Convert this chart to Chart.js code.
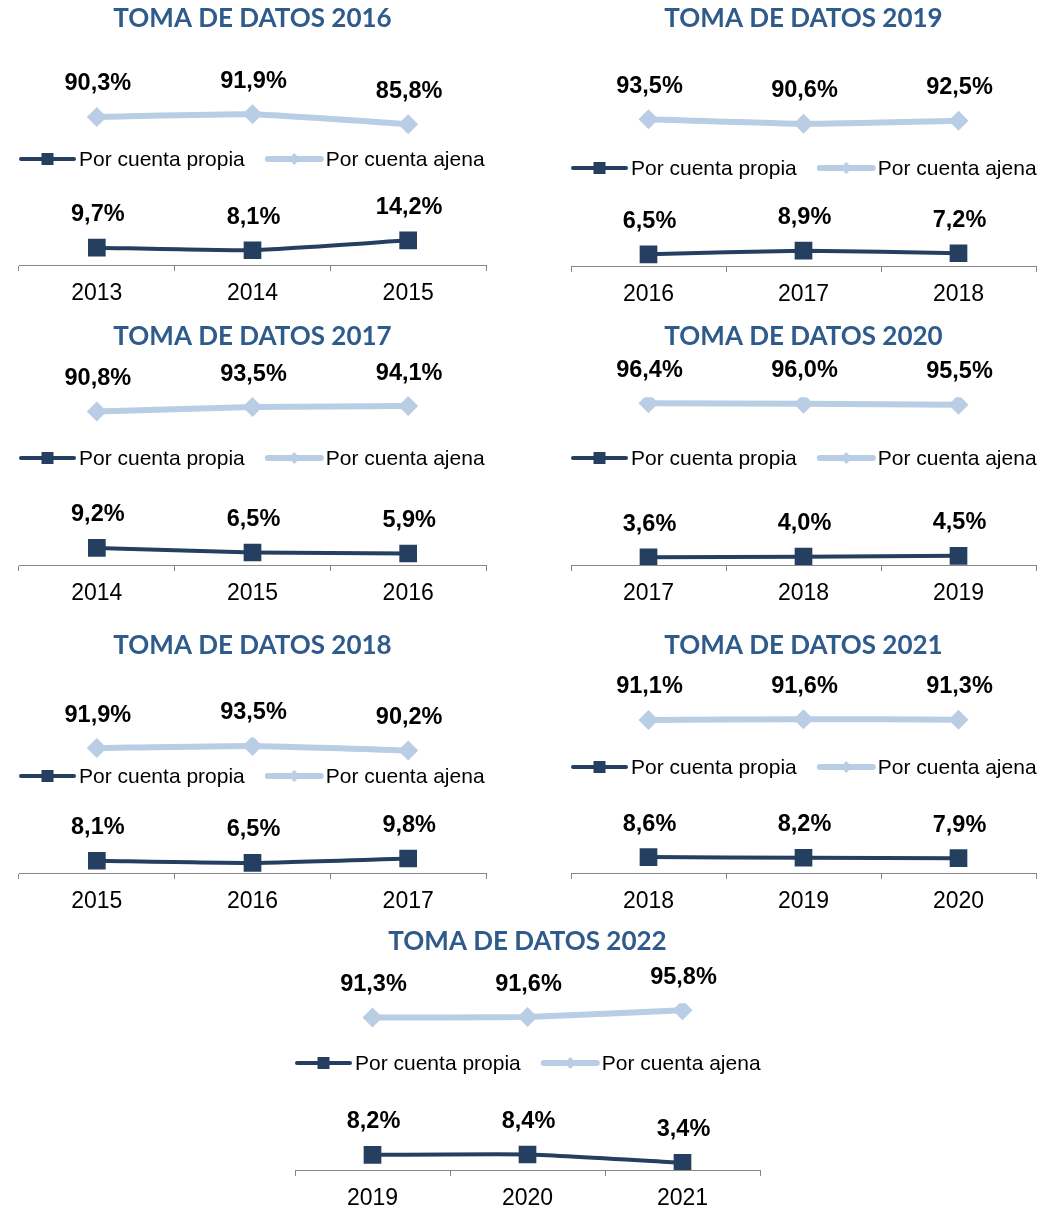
<!DOCTYPE html>
<html>
<head>
<meta charset="utf-8">
<script src="https://cdn.jsdelivr.net/npm/chart.js@4.4.1/dist/chart.umd.min.js"></script>
<style>
  html, body { margin: 0; padding: 0; background: #fff; width: 1061px; height: 1209px; overflow: hidden; }
  .box { position: absolute; }
</style>
</head>
<body>
<script>
// data, one entry per "toma de datos"
const titles = ['TOMA DE DATOS 2016', 'TOMA DE DATOS 2017', 'TOMA DE DATOS 2018', 'TOMA DE DATOS 2019',
                'TOMA DE DATOS 2020', 'TOMA DE DATOS 2021', 'TOMA DE DATOS 2022'];
const years = [
  ['2013', '2014', '2015'],
  ['2014', '2015', '2016'],
  ['2015', '2016', '2017'],
  ['2016', '2017', '2018'],
  ['2017', '2018', '2019'],
  ['2018', '2019', '2020'],
  ['2019', '2020', '2021']
];
const propia = [
  [9.7, 8.1, 14.2],
  [9.2, 6.5, 5.9],
  [8.1, 6.5, 9.8],
  [6.5, 8.9, 7.2],
  [3.6, 4.0, 4.5],
  [8.6, 8.2, 7.9],
  [8.2, 8.4, 3.4]
];
const ajena = [
  [90.3, 91.9, 85.8],
  [90.8, 93.5, 94.1],
  [91.9, 93.5, 90.2],
  [93.5, 90.6, 92.5],
  [96.4, 96.0, 95.5],
  [91.1, 91.6, 91.3],
  [91.3, 91.6, 95.8]
];
const seriesNames = ['Por cuenta propia', 'Por cuenta ajena'];

// where each small chart sits on the page
const boxes = [
  { left: 0,   top: 0,   w: 510, h: 307, padL: 19, padR: 24, titleGap: 67, legendUp: 106 },
  { left: 0,   top: 318, w: 510, h: 289, padL: 19, padR: 24, titleGap: 44, legendUp: 107 },
  { left: 0,   top: 627, w: 510, h: 288, padL: 19, padR: 24, titleGap: 76, legendUp: 97 },
  { left: 550, top: 0,   w: 511, h: 308, padL: 21, padR: 25, titleGap: 75, legendUp: 98 },
  { left: 550, top: 318, w: 511, h: 289, padL: 21, padR: 25, titleGap: 45, legendUp: 107 },
  { left: 550, top: 627, w: 511, h: 288, padL: 21, padR: 25, titleGap: 44, legendUp: 106 },
  { left: 276, top: 923, w: 510, h: 289, padL: 19, padR: 26, titleGap: 46, legendUp: 107 }
];

const DARK = '#243F60';
const LIGHT = '#B9CDE5';
const ARIAL = 'Arial, "Liberation Sans", sans-serif';

const fmt = v => v.toFixed(1).replace('.', ',') + '%';

// legend drawn inside the plot, between the two lines
const midLegend = {
  id: 'midLegend',
  afterDraw(chart, args, opts) {
    const ctx = chart.ctx;
    const area = chart.chartArea;
    const y = area.bottom - opts.up;
    let x = area.left + 2;
    ctx.save();
    ctx.font = '21px ' + ARIAL;
    ctx.textBaseline = 'middle';
    ctx.textAlign = 'left';
    chart.data.datasets.forEach(ds => {
      ctx.strokeStyle = ds.borderColor;
      ctx.lineWidth = ds.borderWidth;
      ctx.lineCap = 'round';
      ctx.beginPath();
      ctx.moveTo(x, y);
      ctx.lineTo(x + 53, y);
      ctx.stroke();
      const cx = x + 26.5;
      ctx.fillStyle = ds.pointBackgroundColor;
      if (ds.pointStyle === 'rect') {
        ctx.fillRect(cx - 6, y - 6, 12, 12);
      } else {
        ctx.beginPath();
        ctx.moveTo(cx, y - 6);
        ctx.lineTo(cx + 6, y);
        ctx.lineTo(cx, y + 6);
        ctx.lineTo(cx - 6, y);
        ctx.closePath();
        ctx.fill();
      }
      ctx.fillStyle = '#000';
      ctx.fillText(ds.label, x + 58, y + 1);
      x += 58 + ctx.measureText(ds.label).width + 23;
    });
    ctx.restore();
  }
};

// values above each point
const valueLabels = {
  id: 'valueLabels',
  afterDatasetsDraw(chart) {
    const ctx = chart.ctx;
    ctx.save();
    ctx.font = 'bold 23.5px ' + ARIAL;
    ctx.fillStyle = '#000';
    ctx.textAlign = 'center';
    ctx.textBaseline = 'middle';
    chart.data.datasets.forEach((ds, i) => {
      chart.getDatasetMeta(i).data.forEach((pt, j) => {
        ctx.fillText(fmt(ds.data[j]), pt.x + 1, pt.y - 33);
      });
    });
    ctx.restore();
  }
};

titles.forEach((title, k) => {
  const b = boxes[k];
  const div = document.createElement('div');
  div.className = 'box';
  div.style.left = b.left + 'px';
  div.style.top = b.top + 'px';
  const canvas = document.createElement('canvas');
  canvas.width = b.w;
  canvas.height = b.h;
  div.appendChild(canvas);
  document.body.appendChild(div);

  new Chart(canvas, {
    type: 'line',
    data: {
      labels: years[k],
      datasets: [
        {
          label: seriesNames[0],
          data: propia[k],
          borderColor: DARK,
          backgroundColor: DARK,
          pointBackgroundColor: DARK,
          pointBorderWidth: 0,
          borderWidth: 4,
          pointStyle: 'rect',
          pointRadius: 12.5,
          tension: 0.15
        },
        {
          label: seriesNames[1],
          data: ajena[k],
          borderColor: LIGHT,
          backgroundColor: LIGHT,
          pointBackgroundColor: LIGHT,
          pointBorderWidth: 0,
          borderWidth: 6,
          pointStyle: 'rectRot',
          pointRadius: 10,
          tension: 0.15
        }
      ]
    },
    options: {
      responsive: false,
      animation: false,
      layout: { padding: { top: 3, left: b.padL, right: b.padR, bottom: 2 } },
      plugins: {
        legend: { display: false },
        tooltip: { enabled: false },
        title: {
          display: true,
          text: title,
          color: '#2E5B8C',
          font: { family: 'Lato, "Open Sans", sans-serif', size: 26, weight: 'bold', lineHeight: 1.2 },
          padding: { top: 0, bottom: b.titleGap }
        },
        midLegend: { up: b.legendUp }
      },
      scales: {
        x: {
          offset: true,
          grid: {
            display: true,
            offset: true,
            drawOnChartArea: false,
            drawTicks: true,
            tickLength: 6,
            tickColor: '#868686'
          },
          border: { display: true, color: '#868686', width: 1 },
          ticks: { color: '#000', padding: 9, font: { family: ARIAL, size: 23 } },
          afterFit(scale) { scale.height = 40; }
        },
        y: { display: false, min: -1, max: 100 }
      }
    },
    plugins: [valueLabels, midLegend]
  });
});
</script>
</body>
</html>
